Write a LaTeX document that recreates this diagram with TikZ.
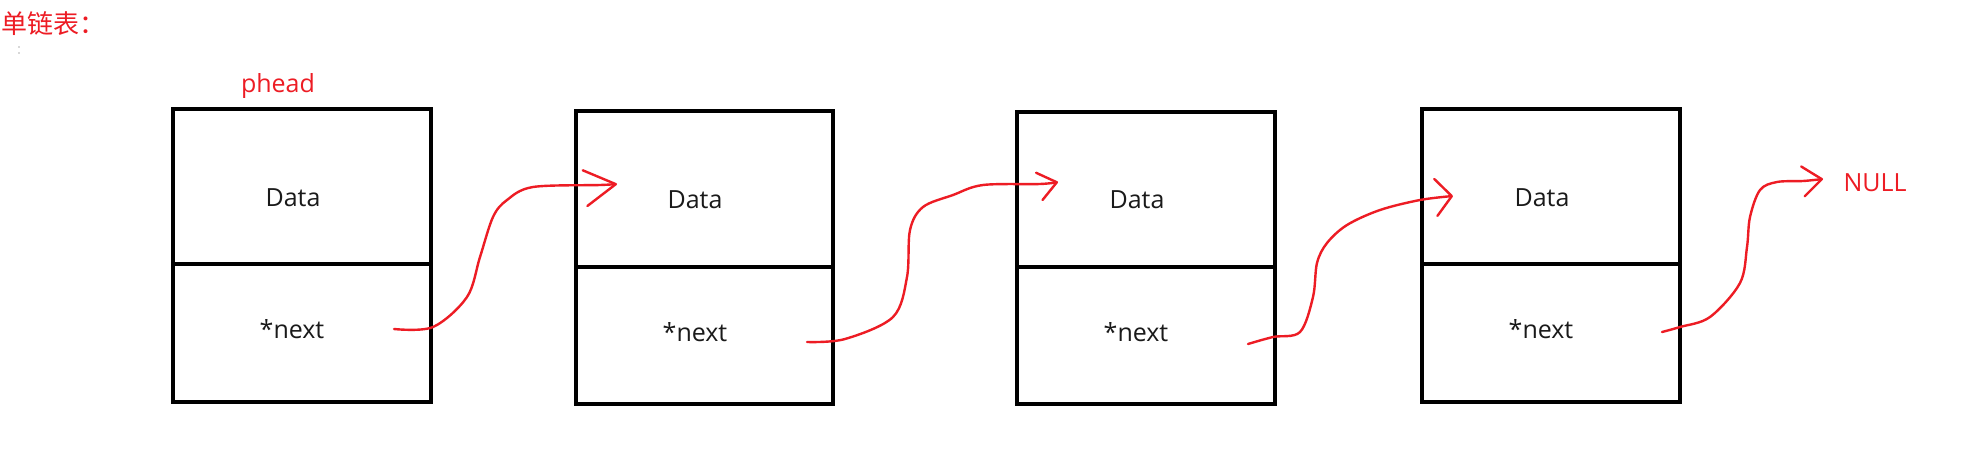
\documentclass[tikz,border=0pt]{standalone}
\usepackage{fontspec}
\setmainfont{Open Sans}
\newfontfamily\cjkfont{Noto Sans CJK SC}
\usetikzlibrary{arrows.meta}
\definecolor{pen}{RGB}{237,28,36}
\definecolor{ink}{RGB}{26,26,26}
\begin{document}
\begin{tikzpicture}[x=1pt,y=-1pt,
  cell/.style={draw=black, line width=3.2pt, inner sep=0pt, minimum width=#1},
  cell/.default=258pt,
  lbl/.style={font=\fontsize{25}{30}\selectfont, text=ink, inner sep=0pt, anchor=base},
  redlbl/.style={font=\fontsize{25}{30}\selectfont, text=pen, inner sep=0pt, anchor=base},
  link/.style={draw=pen, line width=2.4pt, line cap=round, line join=round},
]
\useasboundingbox[fill=white] (0,0) rectangle (1984,453);

% title
\node[font=\cjkfont\fontsize{26}{30}\selectfont, text=pen, inner sep=0pt, anchor=west] (title) at (1,24) {单链表：};
\fill[gray!60] (19,47) circle (0.8);
\fill[gray!60] (19,53) circle (0.8);

% boxes
\node[cell=258pt, minimum height=155pt] (d1) at (302,186.5) {};
\node[cell=258pt, minimum height=138pt] (n1) at (302,333) {};
\node[cell=257pt, minimum height=156pt] (d2) at (704.5,189) {};
\node[cell=257pt, minimum height=137pt] (n2) at (704.5,335.5) {};
\node[cell=258pt, minimum height=155pt] (d3) at (1146,189.5) {};
\node[cell=258pt, minimum height=137pt] (n3) at (1146,335.5) {};
\node[cell=258pt, minimum height=155pt] (d4) at (1551,186.5) {};
\node[cell=258pt, minimum height=138pt] (n4) at (1551,333) {};

% texts
\node[lbl] (td1) at (293,206) {Data};
\node[lbl] (tn1) at (292,338) {*next};
\node[lbl] (td2) at (695,208) {Data};
\node[lbl] (tn2) at (695,341) {*next};
\node[lbl] (td3) at (1137,208) {Data};
\node[lbl] (tn3) at (1136,341) {*next};
\node[lbl] (td4) at (1542,206) {Data};
\node[lbl] (tn4) at (1541,338) {*next};
\node[redlbl] (phead) at (278,92) {phead};
\node[redlbl] (null) at (1875,191) {NULL};

% connectors
\coordinate (s1) at (394,329);  \coordinate (t1) at (617,184);
\coordinate (s2) at (807,342);  \coordinate (t2) at (1058,182);
\coordinate (s3) at (1248,344); \coordinate (t3) at (1453,196);
\coordinate (s4) at (1662,332); \coordinate (t4) at (1823,179);

\draw[link, -{Straight Barb[length=31pt,width=36pt,round]}] plot[smooth, tension=0.55] coordinates
  {(s1) (433,327) (467,297) (480,257) (493,217) (507,200) (533,187) (600,185) (t1)};
\draw[link, -{Straight Barb[length=18pt,width=28pt,round]}] plot[smooth, tension=0.55] coordinates
  {(s2) (845,339) (893,317) (907,277) (910,230) (923,207) (953,195) (983,185) (1040,184) (t2)};
\draw[link, -{Straight Barb[length=16pt,width=37pt,round]}] plot[smooth, tension=0.55] coordinates
  {(s3) (1273,337) (1300,332) (1313,297) (1317,263) (1327,243) (1347,225) (1380,210) (1420,200) (t3)};
\draw[link, -{Straight Barb[length=19pt,width=30pt,round]}] plot[smooth, tension=0.55] coordinates
  {(s4) (1680,327) (1710,317) (1740,283) (1747,247) (1750,217) (1760,190) (1777,182) (1803,181) (t4)};
\end{tikzpicture}
\end{document}
